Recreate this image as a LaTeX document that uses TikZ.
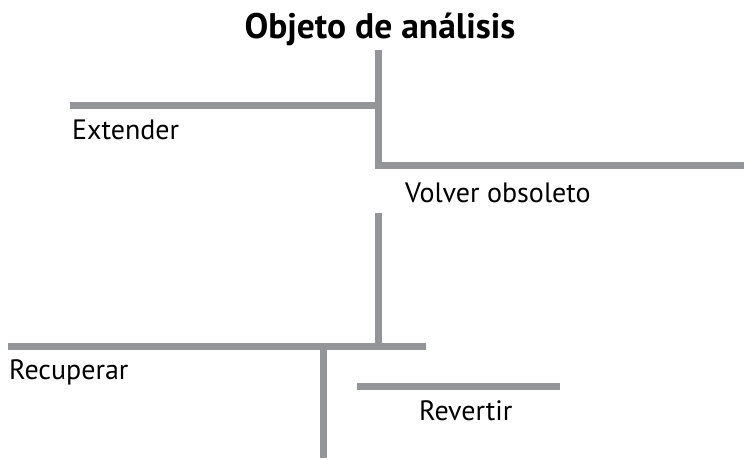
\documentclass[tikz,border=0pt]{standalone}
\usepackage{fontspec}
\setmainfont[Ligatures=NoCommon]{PT Sans}
\definecolor{linegray}{HTML}{939598}
\begin{document}
\begin{tikzpicture}[x=1pt,y=-1pt,
  bar/.style={draw=linegray,line width=7pt},
  lbl/.style={inner sep=0pt,anchor=west,font=\fontsize{28}{32}\selectfont},
  ttl/.style={inner sep=0pt,font=\bfseries\fontsize{35.5}{40}\selectfont}]
\useasboundingbox (0,0) rectangle (744,460);
\node[ttl] (title) at (380,29) {Objeto de análisis};
% coordinates
\coordinate (v1top) at (378,50);
\coordinate (v1bot) at (378,165);
\coordinate (extL) at (70,105);
\coordinate (extR) at (378,105);
\coordinate (volR) at (744,165);
\coordinate (v2top) at (378,213);
\coordinate (v2bot) at (378,346);
\coordinate (recL) at (8,346);
\coordinate (recR) at (426,346);
\coordinate (v3top) at (323,346);
\coordinate (v3bot) at (323,458);
\coordinate (revL) at (357,386);
\coordinate (revR) at (560,386);
\draw[bar] (v1top) -- (v1bot);
\draw[bar] (extL) -- (extR);
\draw[bar] ([xshift=-3.5pt]v1bot) -- (volR);
\draw[bar] (v2top) -- (v2bot);
\draw[bar] (recL) -- (recR);
\draw[bar] (v3top) -- (v3bot);
\draw[bar] (revL) -- (revR);
\node[lbl] (ext) at (72,130) {Extender};
\node[lbl] (vol) at (405,193) {Volver obsoleto};
\node[lbl] (rec) at (9,372) {Recuperar};
\node[lbl] (rev) at (419,411) {Revertir};
\end{tikzpicture}
\end{document}
